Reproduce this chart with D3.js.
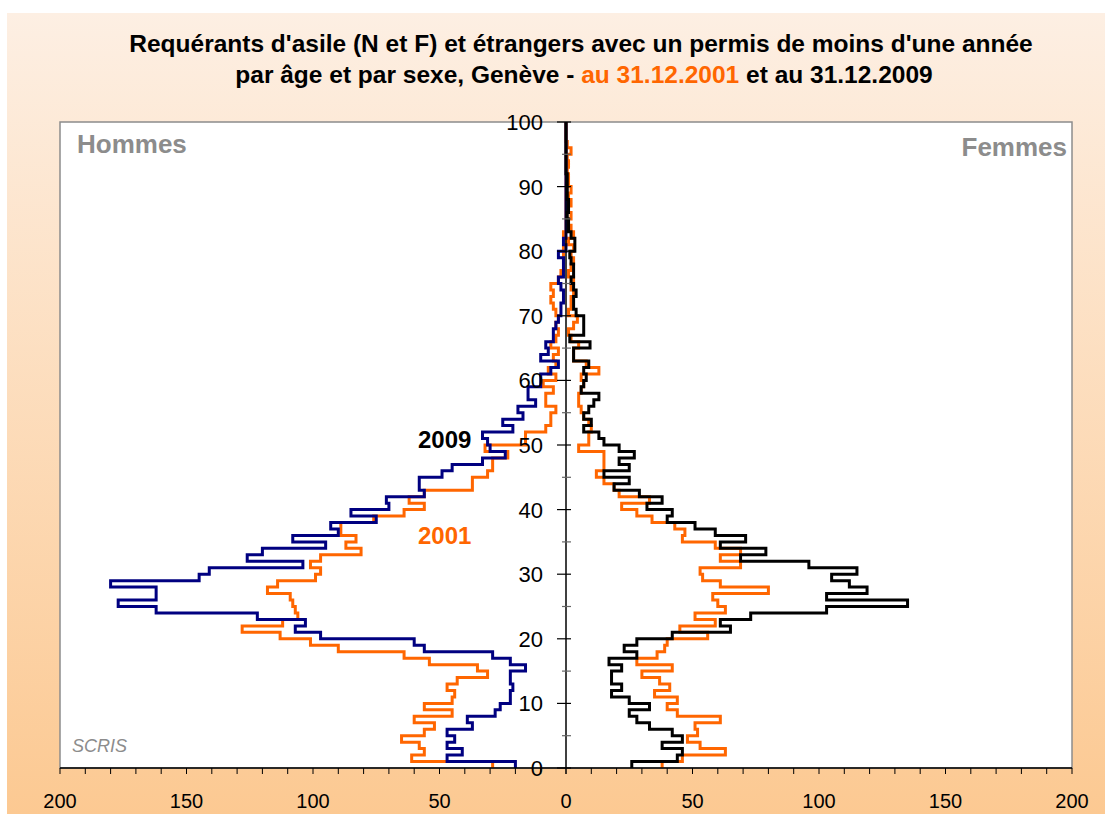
<!DOCTYPE html>
<html><head><meta charset="utf-8">
<script src="https://cdn.jsdelivr.net/npm/d3@7"></script>
<style>html,body{margin:0;padding:0;background:#fff;}svg{display:block;}</style>
</head><body>
<script>
// ---- data (age 0..99, one value per single year of age) ----
const ages = d3.range(0, 100);
const males2009 = [20,47,41,47,44,47,37,39,28,26, 22,22,21,22,22,16,22,29,56,60,
  97,107,103,122,162,177,162,162,180,145, 141,104,126,120,95,108,90,93,75,85,
  70,71,56,58,58,49,45,33,24,30, 31,33,21,25,17,19,12,15,15,10,
  10,6,3,10,7,8,5,5,4,3, 2,2,1,1,2,3,1,1,1,3,
  0,1,0,0,0,0,0,0,0,0, 0,0,0,0,0,0,0,0,0,0];
const males2001 = [29,61,56,58,65,56,52,60,45,56, 45,44,47,43,31,35,54,64,90,101,
  113,128,112,106,107,108,109,118,114,99, 97,101,97,81,87,83,89,89,76,64,
  56,62,56,37,37,31,29,29,23,32, 16,16,8,6,6,4,8,8,5,9,
  4,7,4,5,3,6,4,3,4,3, 4,5,6,5,6,3,2,1,1,1,
  1,0,1,0,0,0,0,0,0,0, 0,0,0,0,0,0,0,0,0,0];
const females2009 = [26,44,46,38,46,42,33,28,25,33, 25,18,22,18,18,22,17,28,23,28,
  42,65,61,73,103,135,103,119,112,105, 115,96,69,79,61,71,59,51,40,42,
  32,38,29,19,25,15,25,21,27,21, 15,13,7,10,7,9,11,13,6,7,
  8,7,9,3,3,9.5,1.5,7,7,7, 4,3,3,4,3,2,3,3,2,1.5,
  3.5,3.5,2,1,1,0.5,1,1,0.5,0.5, 0.5,0.5,0,0,0,0,0,0,0,0];
const females2001 = [38,46,63,53,48,52,51,61,44,40, 44,35,41,37,30,42,28,36,39,40,
  56,45,59,51,63,60,58,80,61,54, 53,69,61,69,59,46,47,43,34,28,
  22,33,21,19,15,12,15,15,15,5, 9,9,10,9,7,6,5,5,6,7,
  6,13,8,3,3,5,2,1,3,4.5, 1,2,2,3,2,3,1,2,3,2,
  3,1,3,2,1,2,1,2,1,2, 1,1,0.5,1,0.5,2,0.5,0,0,0];
const xTickValues = [0,50,100,150,200];
const yTickValues = [0,10,20,30,40,50,60,70,80,90,100];

(function(){
const W = 1105, H = 814;
const svg = d3.select("body").append("svg").attr("width", W).attr("height", H);
const defs = svg.append("defs");
const grad = defs.append("linearGradient").attr("id","bg").attr("x1",0).attr("y1",0).attr("x2",0).attr("y2",1);
grad.append("stop").attr("offset","0%").attr("stop-color","#FDEFE3");
grad.append("stop").attr("offset","100%").attr("stop-color","#FCC992");

svg.append("rect").attr("x",0).attr("y",0).attr("width",W).attr("height",H).attr("fill","#fff");
svg.append("rect").attr("x",7).attr("y",13).attr("width",W-7).attr("height",H-13).attr("fill","url(#bg)");

const cx = 566, pL = 60, pR = 1072, pT = 122, pB = 768;
const xL = d3.scaleLinear().domain([0,200]).range([cx, pL]);
const xR = d3.scaleLinear().domain([0,200]).range([cx, pR]);
const y = d3.scaleLinear().domain([0,100]).range([pB, pT]);

svg.append("rect").attr("x",pL).attr("y",pT).attr("width",pR-pL).attr("height",pB-pT)
  .attr("fill","#fff").attr("stroke","#8c8c8c").attr("stroke-width",1.5);

function stepPoints(vals){
  const pts = [];
  vals.forEach((v,i)=>{ pts.push([v, ages[i]]); pts.push([v, ages[i]+1]); });
  return pts;
}
function drawSeries(vals, xs, color){
  const line = d3.line().x(d=>xs(d[0])).y(d=>y(d[1]));
  svg.append("path").attr("d", line(stepPoints(vals))).attr("fill","none")
    .attr("stroke", color).attr("stroke-width", 3).attr("stroke-linejoin","miter");
}
drawSeries(males2001, xL, "#FF6600");
drawSeries(females2001, xR, "#FF6600");
drawSeries(males2009, xL, "#000080");
drawSeries(females2009, xR, "#000000");

const xAxisG = svg.append("g");
xAxisG.append("line").attr("x1",pL).attr("x2",pR).attr("y1",pB).attr("y2",pB)
  .attr("stroke","#000").attr("stroke-width",1.5);
d3.range(0,201,10).forEach(v=>{
  [xL(v), xR(v)].forEach(px=>{
    xAxisG.append("line").attr("x1",px).attr("x2",px).attr("y1",pB).attr("y2",pB+6)
      .attr("stroke","#000").attr("stroke-width",1);
  });
});
const xLabels = [];
xTickValues.forEach(v=>{ xLabels.push({v, px:xL(v)}); if(v>0) xLabels.push({v, px:xR(v)}); });
xAxisG.selectAll("text.xl").data(xLabels).enter().append("text")
  .attr("x",d=>d.px).attr("y",808).attr("text-anchor","middle")
  .attr("font-family","Liberation Sans, Arial, sans-serif").attr("font-size",20).attr("fill","#000")
  .text(d=>d.v);

const yAxisG = svg.append("g");
yAxisG.append("line").attr("x1",cx).attr("x2",cx).attr("y1",pT).attr("y2",pB)
  .attr("stroke","#000").attr("stroke-width",1.5);
d3.range(0,101,5).forEach(a=>{
  const major = a%10===0;
  yAxisG.append("line").attr("x1",cx-(major?9:4)).attr("x2",cx+5).attr("y1",y(a)).attr("y2",y(a))
    .attr("stroke", major?"#000":"#666").attr("stroke-width",1.2);
});
yAxisG.selectAll("text.yl").data(yTickValues).enter().append("text")
  .attr("x",543).attr("y",d=>y(d)+8).attr("text-anchor","end")
  .attr("font-family","Liberation Sans, Arial, sans-serif").attr("font-size",22).attr("fill","#000")
  .text(d=>d);

const ff = "Liberation Sans, Arial, sans-serif";
svg.append("text").attr("x",581).attr("y",52).attr("text-anchor","middle").attr("font-family",ff)
  .attr("font-weight","bold").attr("font-size",24.5).attr("fill","#000")
  .text("Requérants d'asile (N et F) et étrangers avec un permis de moins d'une année");
const t2 = svg.append("text").attr("x",584).attr("y",83).attr("text-anchor","middle").attr("font-family",ff)
  .attr("font-weight","bold").attr("font-size",24.5).attr("fill","#000");
t2.append("tspan").text("par âge et par sexe, Genève - ");
t2.append("tspan").attr("fill","#FF6600").text("au 31.12.2001");
t2.append("tspan").text(" et au 31.12.2009");

svg.append("text").attr("x",77).attr("y",153).attr("font-family",ff).attr("font-weight","bold")
  .attr("font-size",26).attr("fill","#8c8c8c").text("Hommes");
svg.append("text").attr("x",1067).attr("y",156).attr("text-anchor","end").attr("font-family",ff).attr("font-weight","bold")
  .attr("font-size",26).attr("fill","#8c8c8c").text("Femmes");
svg.append("text").attr("x",72).attr("y",752).attr("font-family",ff).attr("font-style","italic")
  .attr("font-size",18).attr("fill","#8c8c8c").text("SCRIS");
svg.append("text").attr("x",418).attr("y",448).attr("font-family",ff).attr("font-weight","bold")
  .attr("font-size",24).attr("fill","#000").text("2009");
svg.append("text").attr("x",418).attr("y",544).attr("font-family",ff).attr("font-weight","bold")
  .attr("font-size",24).attr("fill","#FF6600").text("2001");
})();
</script>
</body></html>
